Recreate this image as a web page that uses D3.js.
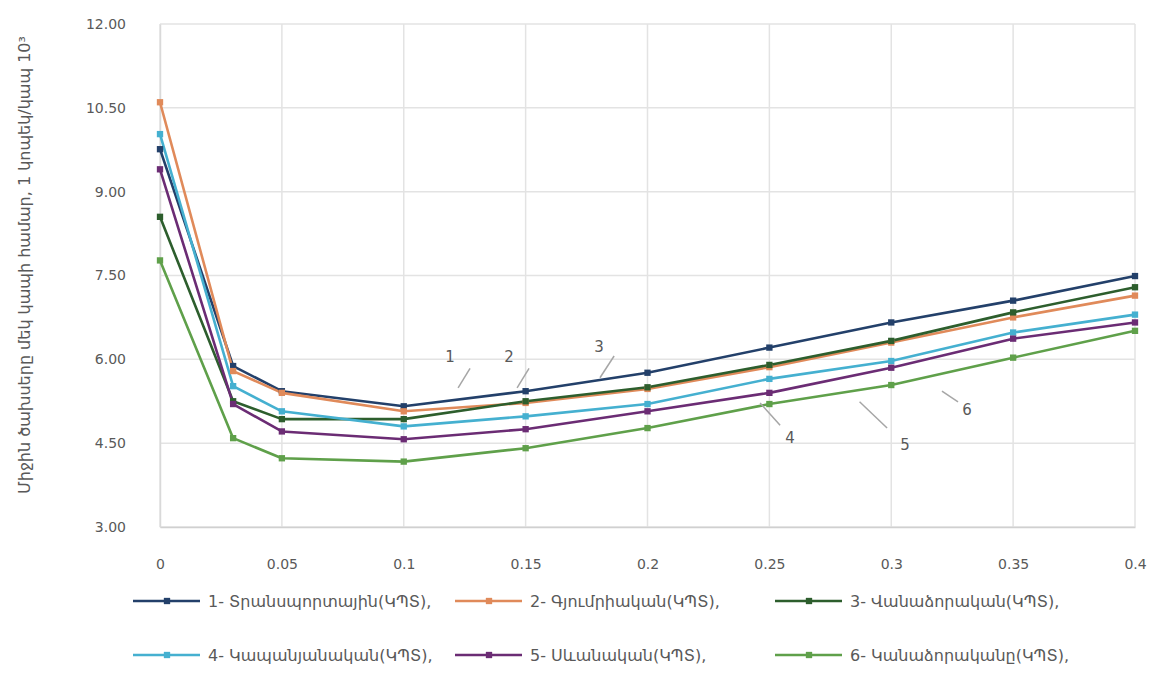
<!DOCTYPE html>
<html>
<head>
<meta charset="utf-8">
<script src="https://cdn.jsdelivr.net/npm/d3@7"></script>
<style>
  html, body { margin: 0; padding: 0; background: #ffffff; }
  svg { display: block; }
  text { font-family: "DejaVu Sans", "Noto Sans", sans-serif; fill: #595959; }
</style>
</head>
<body>
<svg id="chart" width="1169" height="675"></svg>
<script>
// ---- data ----
const xValues = [0, 0.03, 0.05, 0.1, 0.15, 0.2, 0.25, 0.3, 0.35, 0.4];
const xTicks = [0, 0.05, 0.1, 0.15, 0.2, 0.25, 0.3, 0.35, 0.4];
const xTickLabels = ["0", "0.05", "0.1", "0.15", "0.2", "0.25", "0.3", "0.35", "0.4"];
const yTicks = [3.0, 4.5, 6.0, 7.5, 9.0, 10.5, 12.0];
const yTickLabels = ["3.00", "4.50", "6.00", "7.50", "9.00", "10.50", "12.00"];

const seriesNames = [
  "1- Տրանսպորտային(ԿՊՏ),",
  "2- Գյումրիական(ԿՊՏ),",
  "3- Վանաձորական(ԿՊՏ),",
  "4- Կապանյանական(ԿՊՏ),",
  "5- Սևանական(ԿՊՏ),",
  "6- Կանաձորականը(ԿՊՏ),"
];
const s1 = [9.76, 5.88, 5.43, 5.16, 5.43, 5.76, 6.21, 6.66, 7.05, 7.49];
const s2 = [10.60, 5.79, 5.40, 5.07, 5.22, 5.47, 5.86, 6.30, 6.75, 7.14];
const s3 = [8.55, 5.25, 4.93, 4.93, 5.25, 5.50, 5.90, 6.33, 6.84, 7.29];
const s4 = [10.03, 5.52, 5.07, 4.80, 4.98, 5.20, 5.65, 5.97, 6.48, 6.80];
const s5 = [9.40, 5.20, 4.71, 4.57, 4.75, 5.07, 5.40, 5.85, 6.37, 6.66];
const s6 = [7.77, 4.59, 4.23, 4.17, 4.41, 4.77, 5.20, 5.54, 6.03, 6.51];
const seriesValues = [s1, s2, s3, s4, s5, s6];
const seriesColors = ["#23406a", "#e08a5a", "#2d5e2d", "#45b0d0", "#6b2c74", "#5fa04a"];

const yAxisTitle = "Միջին ծախսերը մեկ կապի համար, 1 կոպեկ/կապ 10³";

// annotation labels (data coordinates): label baseline point, leader start (near label) and end (near line)
const annLabels = ["1", "2", "3", "4", "5", "6"];
const annTextX = [0.119, 0.1432, 0.1801, 0.2585, 0.3056, 0.3311];
const annTextY = [5.95, 5.95, 6.13, 4.50, 4.38, 5.00];
const annFromX = [0.1272, 0.1514, 0.1863, 0.2544, 0.2983, 0.3274];
const annFromY = [5.84, 5.84, 6.06, 4.82, 4.77, 5.24];
const annToX = [0.1223, 0.1465, 0.1805, 0.2462, 0.2870, 0.3208];
const annToY = [5.49, 5.49, 5.67, 5.22, 5.24, 5.43];

// ---- layout ----
const W = 1169, H = 675;
const margin = { left: 160, right: 34, top: 24, bottom: 148 };
const svg = d3.select("#chart");
const x = d3.scaleLinear().domain([0, 0.4]).range([margin.left, W - margin.right]);
const y = d3.scaleLinear().domain([3, 12]).range([H - margin.bottom, margin.top]);

// gridlines
const grid = svg.append("g");
grid.selectAll("line.h").data(yTicks).enter().append("line")
  .attr("x1", x(0)).attr("x2", x(0.4))
  .attr("y1", d => y(d)).attr("y2", d => y(d))
  .attr("stroke", "#e3e3e3").attr("stroke-width", 1.5);
grid.selectAll("line.v").data(xTicks).enter().append("line")
  .attr("x1", d => x(d)).attr("x2", d => x(d))
  .attr("y1", y(3)).attr("y2", y(12))
  .attr("stroke", "#e3e3e3").attr("stroke-width", 1.5);

// axes
const xAxis = d3.axisBottom(x).tickValues(xTicks).tickFormat((d, i) => xTickLabels[i]).tickSize(0).tickPadding(32);
const gx = svg.append("g").attr("transform", `translate(0,${y(3)})`).call(xAxis);
gx.select(".domain").attr("stroke", "#d0d0d0").attr("stroke-width", 1.5);
gx.selectAll("text").style("font-size", "14px").attr("fill", "#595959");

const yAxis = d3.axisLeft(y).tickValues(yTicks).tickFormat((d, i) => yTickLabels[i]).tickSize(0).tickPadding(34);
const gy = svg.append("g").attr("transform", `translate(${x(0)},0)`).call(yAxis);
gy.select(".domain").attr("stroke", "#d9d9d9").attr("stroke-width", 1.5);
gy.selectAll("text").style("font-size", "14px").attr("fill", "#595959");

// y axis title
svg.append("text")
  .attr("transform", `translate(30,265) rotate(-90)`)
  .attr("text-anchor", "middle")
  .style("font-size", "16px")
  .text(yAxisTitle);

// lines
const line = d3.line().x((d, i) => x(xValues[i])).y(d => y(d)).curve(d3.curveLinear);
const sym = d3.symbol().type(d3.symbolSquare).size(40);
seriesValues.forEach((vals, k) => {
  svg.append("path").datum(vals)
    .attr("d", line)
    .attr("fill", "none")
    .attr("stroke", seriesColors[k])
    .attr("stroke-width", 2.6)
    .attr("stroke-linejoin", "round");
});
seriesValues.forEach((vals, k) => {
  svg.append("g").selectAll("path").data(vals).enter().append("path")
    .attr("d", sym)
    .attr("transform", (d, i) => `translate(${x(xValues[i])},${y(d)})`)
    .attr("fill", seriesColors[k]);
});

// annotations
const ann = svg.append("g");
annLabels.forEach((lab, i) => {
  ann.append("line")
    .attr("x1", x(annFromX[i])).attr("y1", y(annFromY[i]))
    .attr("x2", x(annToX[i])).attr("y2", y(annToY[i]))
    .attr("stroke", "#a6a6a6").attr("stroke-width", 1.5);
  ann.append("text")
    .attr("x", x(annTextX[i])).attr("y", y(annTextY[i]))
    .attr("text-anchor", "middle")
    .style("font-size", "15px")
    .text(lab);
});

// legend
const legCols = [133, 455, 775];
const legRows = [601, 655];
seriesNames.forEach((name, k) => {
  const cx = legCols[k % 3], cy = legRows[Math.floor(k / 3)];
  const g = svg.append("g").attr("transform", `translate(${cx},${cy})`);
  g.append("line").attr("x1", 0).attr("x2", 67).attr("y1", 0).attr("y2", 0)
    .attr("stroke", seriesColors[k]).attr("stroke-width", 2.6);
  g.append("path").attr("d", sym).attr("transform", "translate(34,0)").attr("fill", seriesColors[k]);
  g.append("text").attr("x", 75).attr("y", 6).style("font-size", "16px").text(name);
});
</script>
</body>
</html>
